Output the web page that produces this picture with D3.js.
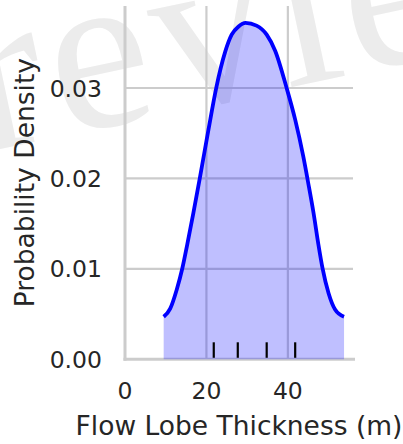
<!DOCTYPE html>
<html>
<head>
<meta charset="utf-8">
<script src="https://cdn.jsdelivr.net/npm/d3@7"></script>
<style>
  html, body { margin: 0; padding: 0; background: #fff; }
  svg { display: block; }
  text { font-family: "DejaVu Sans", sans-serif; fill: #262626; }
</style>
</head>
<body>
<svg id="chart" width="403" height="444"></svg>
<script>
// Kernel density estimate of flow lobe thickness, sampled along x (m)
const thickness = [9.5, 11.1, 12.7, 14.1, 15.2, 16.8, 18.4, 20.5, 22.4, 24.6, 26.2, 27.9, 29.6,
                   32.3, 34.8, 36.9, 39.7, 41.8, 43.8, 45.0, 46.3, 47.5, 48.5, 50.0, 51.6, 53.8];
const density = [0.0047, 0.0056, 0.0077, 0.0101, 0.0125, 0.0162, 0.0201, 0.0254, 0.0300, 0.0340, 0.0359, 0.0368, 0.0372,
                 0.0369, 0.0359, 0.0341, 0.0300, 0.0265, 0.0224, 0.0195, 0.0162, 0.0127, 0.0101, 0.0073, 0.0055, 0.0047];
// Observed thickness values shown as a rug
const observations = [21.8, 27.7, 34.8, 41.8];
// Axis ticks
const xTicks = [0, 20, 40];
const yTicks = [0.00, 0.01, 0.02, 0.03];

const svg = d3.select("#chart");
const plot = { left: 125, right: 353, top: 6, bottom: 359.3 };

const x = d3.scaleLinear().domain([0, 56]).range([plot.left, plot.right]);
const y = d3.scaleLinear().domain([0, 0.03907]).range([plot.bottom, plot.top]);

// Faint background watermark
svg.append("text")
  .attr("transform", "translate(61,136) rotate(-12)")
  .attr("x", -215)
  .attr("y", 0)
  .style("font-family", "'Liberation Serif', serif")
  .style("font-size", "228px")
  .style("letter-spacing", "7px")
  .style("fill", "#ececec")
  .text("Preview");

// Grid
const grid = svg.append("g");
grid.selectAll("line.gx").data(xTicks.filter(d => d > 0)).join("line")
  .attr("x1", d => x(d)).attr("x2", d => x(d))
  .attr("y1", plot.top).attr("y2", plot.bottom)
  .attr("stroke", "#cccccc").attr("stroke-width", 2.2);
grid.selectAll("line.gy").data(yTicks.filter(d => d > 0)).join("line")
  .attr("x1", plot.left).attr("x2", plot.right)
  .attr("y1", d => y(d)).attr("y2", d => y(d))
  .attr("stroke", "#cccccc").attr("stroke-width", 2.2);

// Spines
svg.append("line")
  .attr("x1", x(0)).attr("x2", x(0))
  .attr("y1", plot.top).attr("y2", plot.bottom + 1.5)
  .attr("stroke", "#cccccc").attr("stroke-width", 3);
svg.append("line")
  .attr("x1", plot.left - 1.5).attr("x2", plot.right + 2)
  .attr("y1", y(0)).attr("y2", y(0))
  .attr("stroke", "#cccccc").attr("stroke-width", 3);

const pts = thickness.map((t, i) => [t, density[i]]);
const curve = d3.curveMonotoneX;

// Shaded density
svg.append("path")
  .datum(pts)
  .attr("d", d3.area().x(d => x(d[0])).y0(y(0)).y1(d => y(d[1])).curve(curve))
  .attr("fill", "#0000ff").attr("fill-opacity", 0.25);

// Density outline
svg.append("path")
  .datum(pts)
  .attr("d", d3.line().x(d => x(d[0])).y(d => y(d[1])).curve(curve))
  .attr("fill", "none").attr("stroke", "#0000ff").attr("stroke-width", 3.8)
  .attr("stroke-linejoin", "round");

// Rug
svg.append("g").selectAll("line").data(observations).join("line")
  .attr("x1", d => x(d)).attr("x2", d => x(d))
  .attr("y1", plot.bottom - 17).attr("y2", plot.bottom - 1.5)
  .attr("stroke", "#000").attr("stroke-width", 2.2);

// Tick labels
svg.append("g").selectAll("text").data(xTicks).join("text")
  .attr("x", d => x(d)).attr("y", 398.5)
  .attr("text-anchor", "middle")
  .style("font-size", "23.5px")
  .text(d => d3.format("d")(d));
svg.append("g").selectAll("text").data(yTicks).join("text")
  .attr("x", 102).attr("y", d => y(d) + 8.5)
  .attr("text-anchor", "end")
  .style("font-size", "23.5px")
  .text(d => d3.format(".2f")(d));

// Axis titles
svg.append("text")
  .attr("x", (plot.left + plot.right) / 2).attr("y", 435)
  .attr("text-anchor", "middle")
  .style("font-size", "26.5px")
  .text("Flow Lobe Thickness (m)");
svg.append("text")
  .attr("transform", `translate(33.5,${(plot.top + plot.bottom) / 2}) rotate(-90)`)
  .attr("text-anchor", "middle")
  .style("font-size", "26.5px")
  .text("Probability Density");
</script>
</body>
</html>
